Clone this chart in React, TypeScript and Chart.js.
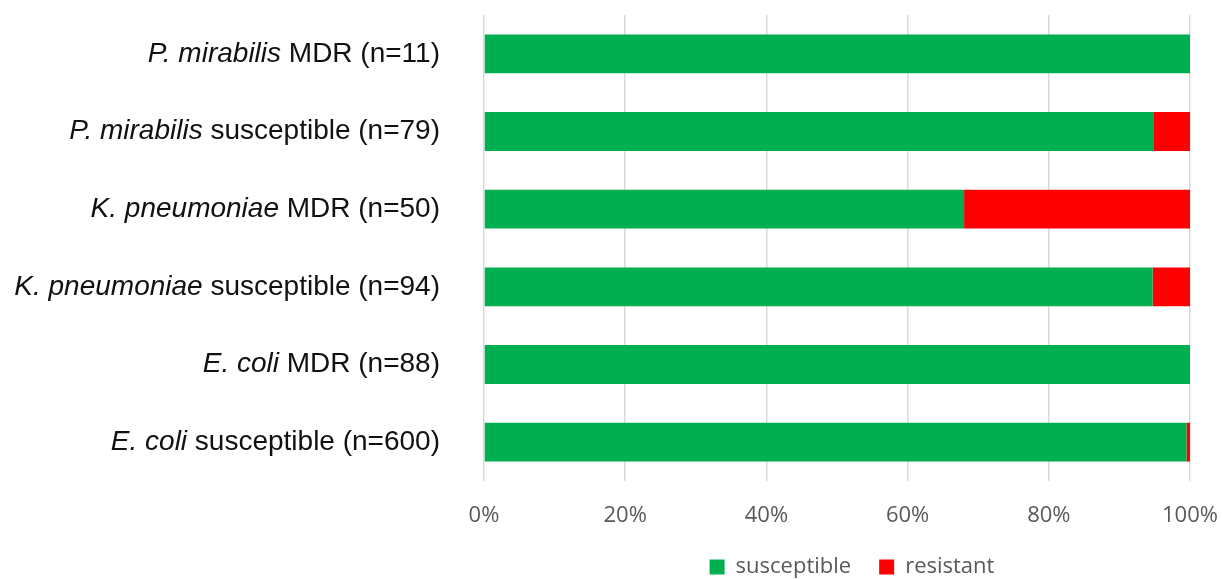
import React, { useEffect, useRef } from "react";
import { Chart, registerables } from "chart.js";

Chart.register(...registerables);

const species = ["P. mirabilis", "P. mirabilis", "K. pneumoniae", "K. pneumoniae", "E. coli", "E. coli"];
const groups = ["MDR (n=11)", "susceptible (n=79)", "MDR (n=50)", "susceptible (n=94)", "MDR (n=88)", "susceptible (n=600)"];
const categories = species.map((s, i) => `${s} ${groups[i]}`);
const susceptible = [100, 94.9, 68, 94.7, 100, 99.5];
const resistant = [0, 5.1, 32, 5.3, 0, 0.5];
const xTicks = [0, 20, 40, 60, 80, 100];

const labelPlugin = {
  id: "mixedLabels",
  afterDraw(chart: any) {
    const ctx = chart.ctx;
    const yScale = chart.scales.y;
    const right = chart.chartArea.left - 44;
    ctx.save();
    ctx.textBaseline = "middle";
    ctx.textAlign = "right";
    ctx.fillStyle = "#111111";
    for (let i = 0; i < categories.length; i++) {
      const y = yScale.getPixelForValue(i);
      ctx.font = '28px "Liberation Sans", Arial, sans-serif';
      const rest = " " + groups[i];
      const w = ctx.measureText(rest).width;
      ctx.fillText(rest, right, y);
      ctx.font = 'italic 28px "Liberation Sans", Arial, sans-serif';
      ctx.fillText(species[i], right - w, y);
    }
    ctx.restore();
  },
};

const legendTweak = {
  id: "legendTweak",
  afterInit(chart: any) {
    const legend = chart.legend;
    if (!legend) return;
    const origFit = legend.fit;
    legend.fit = function () {
      origFit.call(this);
      this.height = 51;
    };
    const origDraw = legend.draw;
    legend.draw = function () {
      const l = this.left;
      const r = this.right;
      this.left = chart.chartArea.left + 30;
      this.right = chart.chartArea.right;
      origDraw.call(this);
      this.left = l;
      this.right = r;
    };
  },
};

export default function App() {
  const ref = useRef<HTMLCanvasElement | null>(null);
  useEffect(() => {
    document.body.style.margin = "0";
    const chart = new Chart(ref.current as HTMLCanvasElement, {
      type: "bar",
      data: {
        labels: categories,
        datasets: [
          { label: "susceptible", data: susceptible, backgroundColor: "#00B050", borderWidth: 0 },
          { label: "resistant", data: resistant, backgroundColor: "#FF0000", borderWidth: 0 },
        ],
      },
      options: {
        indexAxis: "y",
        responsive: true,
        maintainAspectRatio: false,
        animation: false,
        layout: { padding: { top: 15, right: 32, left: 0, bottom: 0 } },
        datasets: { bar: { barPercentage: 0.5, categoryPercentage: 1 } },
        scales: {
          x: {
            stacked: true,
            min: 0,
            max: 100,
            afterBuildTicks: (scale: any) => {
              scale.ticks = xTicks.map((v) => ({ value: v }));
            },
            afterFit: (scale: any) => {
              scale.height = 47;
              scale.paddingLeft = 0;
              scale.paddingRight = 0;
            },
            grid: { color: "#d9d9d9", lineWidth: 1.5, drawTicks: false },
            border: { display: false },
            ticks: {
              padding: 22,
              color: "#595959",
              font: { family: '"Open Sans"', size: 22 },
              callback: (v: any) => `${v}%`,
            },
          },
          y: {
            stacked: true,
            grid: { display: false },
            border: { display: false },
            ticks: { display: false },
            afterFit: (scale: any) => {
              scale.width = 484;
            },
          },
        },
        plugins: {
          tooltip: { enabled: false },
          legend: {
            position: "bottom",
            labels: {
              boxWidth: 15,
              boxHeight: 15,
              padding: 28,
              color: "#595959",
              font: { family: '"Open Sans"', size: 22 },
            },
          },
        },
      },
      plugins: [labelPlugin, legendTweak],
    } as any);
    return () => chart.destroy();
  }, []);
  return (
    <div style={{ position: "absolute", left: 0, top: 0, width: 1222, height: 579 }}>
      <canvas ref={ref} />
    </div>
  );
}
